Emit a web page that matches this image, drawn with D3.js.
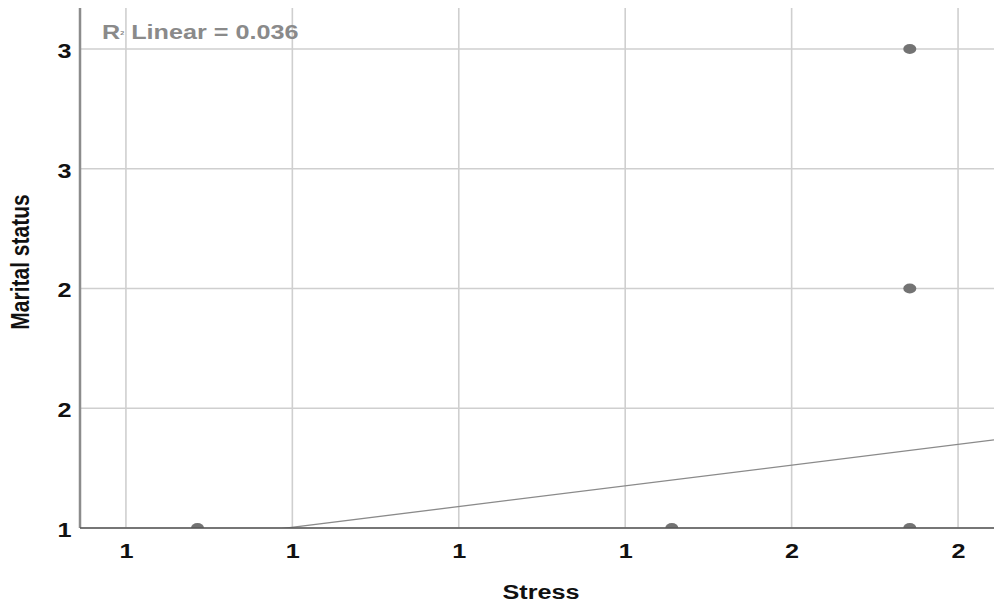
<!DOCTYPE html>
<head>
  <meta charset="utf-8">
  <script src="https://d3js.org/d3.v7.min.js"></script>
  <style>
    body { margin: 0; background: #fff; }
    text { font-family: "Liberation Sans", Arial, sans-serif; }
    .tick text { font-size: 21px; font-weight: bold; fill: #111; }
    .axis-title { font-size: 21px; font-weight: bold; fill: #111; }
    .grid line { stroke: #cfcfcf; stroke-width: 1.6; }
  </style>
</head>
<body>
  <script>
    // values
    const stress = [1.143, 1.428, 1.571, 1.571, 1.571];
    const marital = [1, 1, 1, 2, 3];
    const xTicks = [1.1, 1.2, 1.3, 1.4, 1.5, 1.6];
    const xTickLabels = ["1", "1", "1", "1", "2", "2"];
    const yTicks = [1.0, 1.5, 2.0, 2.5, 3.0];
    const yTickLabels = ["1", "2", "2", "3", "3"];
    const fitIntercept = -0.035;
    const fitSlope = 0.865;
    const rSquared = "0.036";

    const W = 994, H = 603;
    const plot = {left: 80, top: 8, right: 994, bottom: 528};
    const stretch = 1.2;   // the original image is wider than its glyphs

    const svg = d3.select("body").append("svg")
        .attr("width", W)
        .attr("height", H);

    const x = d3.scaleLinear().domain([1.0724, 1.6216]).range([plot.left, plot.right]);
    const y = d3.scaleLinear().domain([1, 3.171]).range([plot.bottom, plot.top]);

    svg.append("defs").append("clipPath")
        .attr("id", "plot-clip")
      .append("rect")
        .attr("x", plot.left)
        .attr("y", plot.top)
        .attr("width", plot.right - plot.left)
        .attr("height", plot.bottom - plot.top);

    // grid
    const grid = svg.append("g").attr("class", "grid");
    grid.selectAll(".vx").data(xTicks).enter().append("line")
        .attr("x1", d => x(d)).attr("x2", d => x(d))
        .attr("y1", plot.top).attr("y2", plot.bottom);
    grid.selectAll(".hy").data(yTicks).enter().append("line")
        .attr("x1", plot.left).attr("x2", plot.right)
        .attr("y1", d => y(d)).attr("y2", d => y(d));

    const inner = svg.append("g").attr("clip-path", "url(#plot-clip)");

    // fit line
    const xd = x.domain();
    inner.append("line")
        .attr("x1", x(xd[0])).attr("y1", y(fitIntercept + fitSlope * xd[0]))
        .attr("x2", x(xd[1])).attr("y2", y(fitIntercept + fitSlope * xd[1]))
        .attr("stroke", "#8a8a8a")
        .attr("stroke-width", 1.3);

    // points
    inner.selectAll(".pt")
        .data(stress.map((s, i) => ({s: s, m: marital[i]})))
        .enter().append("ellipse")
        .attr("class", "pt")
        .attr("cx", d => x(d.s))
        .attr("cy", d => y(d.m))
        .attr("rx", 6.5)
        .attr("ry", 5)
        .attr("fill", "#737373");

    // axes
    const xAxis = d3.axisBottom(x).tickValues(xTicks)
        .tickFormat((d, i) => xTickLabels[i]).tickSize(0).tickPadding(15);
    const yAxis = d3.axisLeft(y).tickValues(yTicks)
        .tickFormat((d, i) => yTickLabels[i]).tickSize(0).tickPadding(7);

    const gx = svg.append("g")
        .attr("transform", "translate(0," + plot.bottom + ")")
        .call(xAxis);
    gx.select(".domain").remove();
    gx.selectAll(".tick text").attr("transform", "scale(" + stretch + ",1)");

    const gy = svg.append("g")
        .attr("transform", "translate(" + plot.left + ",0)")
        .call(yAxis);
    gy.select(".domain").remove();
    gy.selectAll(".tick text")
        .attr("dy", "0.4em")
        .attr("transform", "scale(" + stretch + ",1)");

    svg.append("line")
        .attr("x1", plot.left).attr("x2", plot.left)
        .attr("y1", plot.top).attr("y2", plot.bottom)
        .attr("stroke", "#8c8c8c").attr("stroke-width", 2.5);
    svg.append("line")
        .attr("x1", plot.left).attr("x2", plot.right)
        .attr("y1", plot.bottom).attr("y2", plot.bottom)
        .attr("stroke", "#555").attr("stroke-width", 1.6);

    // titles
    svg.append("g")
        .attr("transform", "translate(541,599) scale(" + stretch + ",1)")
      .append("text")
        .attr("class", "axis-title")
        .attr("text-anchor", "middle")
        .text("Stress");

    svg.append("g")
        .attr("transform", "translate(29,262) scale(" + stretch + ",1) rotate(-90)")
      .append("text")
        .attr("class", "axis-title")
        .attr("text-anchor", "middle")
        .text("Marital status");

    const r2 = svg.append("g")
        .attr("transform", "translate(102,39) scale(" + stretch + ",1)")
      .append("text")
        .attr("font-size", 21)
        .attr("font-weight", "bold")
        .attr("fill", "#8a8a8a");
    r2.append("tspan").text("R");
    r2.append("tspan").attr("font-size", 6).attr("dy", -4).text("2");
    r2.append("tspan").attr("dy", 4).text(" Linear = " + rSquared);
  </script>
</body>
